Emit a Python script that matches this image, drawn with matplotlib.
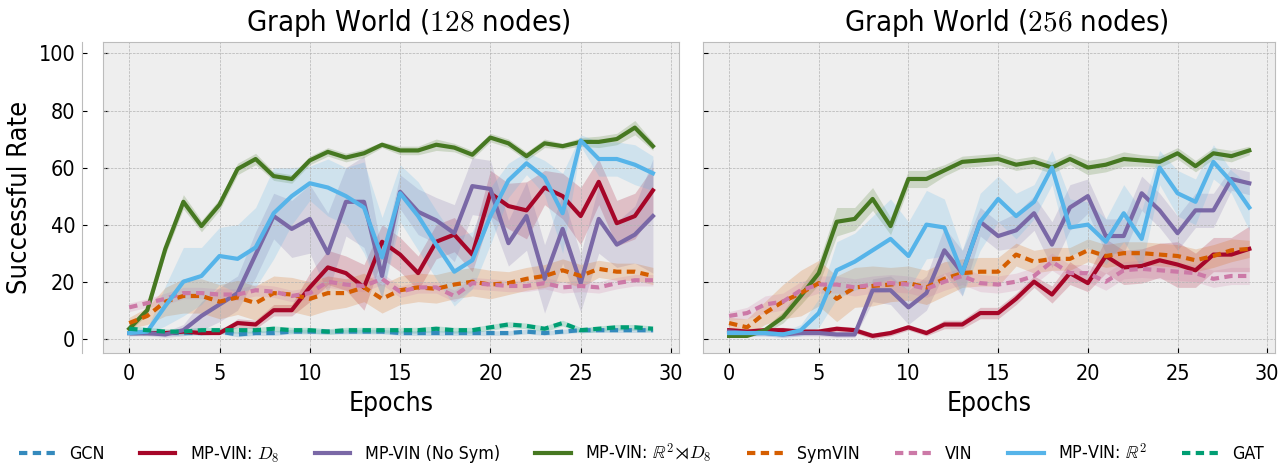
import numpy as np
import matplotlib
matplotlib.use('Agg')
import matplotlib.pyplot as plt

plt.style.use('bmh')
plt.rcParams['font.family'] = ['DejaVu Sans']
plt.rcParams['font.stretch'] = 'condensed'

epochs = np.arange(30)

labels = ['GCN', 'MP-VIN: $D_8$', 'MP-VIN (No Sym)', r'MP-VIN: $\mathbb{R}^2\!\rtimes\! D_8$',
          'SymVIN', 'VIN', r'MP-VIN: $\mathbb{R}^2$', 'GAT']
dashed = [True, False, False, False, True, True, False, True]

# 128 nodes
gcn_128 = [2, 2, 2, 2, 2, 2.5, 1.5, 2, 2, 2.5, 2.5, 2.5, 2.5, 2.5, 2.5, 2, 2, 2, 2, 2, 2, 2, 2.5, 2, 2.5, 3, 3, 3, 3, 3]
d8_128 = [2, 2, 2, 2.5, 2, 2, 5.5, 5, 10, 10, 18, 25, 23, 18, 34, 29.5, 23, 34, 36.5, 29.5, 51, 46.5, 45, 53, 50, 43, 55, 40.5, 43, 52]
nosym_128 = [2, 2, 1.5, 3, 8, 12, 16, 29.5, 43, 38.5, 42, 30, 48, 48, 22, 51.5, 44.5, 41.5, 37, 53.5, 52.5, 33.5, 43, 21, 38.5, 19.5, 42, 33, 36.5, 43]
r2d8_128 = [3.5, 10, 31.5, 48, 39.5, 47, 59.5, 63, 57, 56, 62.5, 65.5, 63.5, 65, 68, 66, 66, 68, 67, 64.5, 70.5, 68.5, 64, 68.5, 67.5, 69, 69, 70, 74, 67.5]
symvin_128 = [5.5, 8, 13, 15, 15, 13, 14.5, 12.5, 16, 15.5, 14, 16, 16, 18, 14, 17, 18, 17.5, 19, 20, 19, 19.5, 21, 22, 24, 22, 24.5, 23.5, 23.5, 22]
vin_128 = [11, 12.5, 14, 16, 16, 15.5, 15.5, 17, 16.5, 15, 16, 20, 19, 18.5, 21, 16.5, 18, 18, 15, 19.5, 19, 18.5, 18.5, 19.5, 18, 18.5, 18, 19.5, 20.5, 20.5]
r2_128 = [2, 2.5, 11.5, 20, 22, 29, 28, 32, 44, 50, 54.5, 53, 50, 46, 28.5, 51, 43, 33, 23.5, 27.5, 43, 55.5, 61.5, 56.5, 44, 69.5, 63, 63, 61, 58]
gat_128 = [3.5, 3, 2.5, 2.5, 3, 3, 3, 3, 3.5, 3, 3, 2.5, 3, 3, 3, 3, 3, 3.5, 3, 3, 4, 5, 4.5, 3.5, 5.5, 3, 3.5, 4, 4, 3.5]

gcn_128_err = [0.8] * 30
d8_128_err = [0.5, 0.5, 0.5, 0.5, 0.5, 0.5, 1.5, 1.5, 2, 2, 5, 6, 6, 8, 6, 6, 6, 6, 6, 6, 8, 8, 10, 6, 8, 10, 8, 8, 8, 8]
nosym_128_err = [1, 1, 1, 2, 5, 6, 6, 8, 8, 10, 12, 14, 12, 16, 8, 6, 8, 8, 10, 10, 10, 8, 12, 12, 12, 10, 12, 8, 10, 20]
r2d8_128_err = [1, 1.5, 2, 2.5, 2, 2, 2, 2, 1.5, 1.5, 1.5, 1.5, 1.5, 1.5, 1, 1.5, 1.5, 2, 1.5, 1.5, 1.5, 1.5, 1.5, 1.5, 1, 1.5, 2, 2, 2.5, 1.5]
symvin_128_err = [2, 3, 5, 6, 6, 6, 6, 6, 6, 6, 6, 6, 5, 5, 5, 5, 5, 5, 5, 5, 5, 4, 4, 4, 4, 4, 3, 3, 3, 3]
vin_128_err = [1.5, 1.5, 2, 2, 2, 2, 2, 2, 2, 2, 2, 2, 2, 2, 2, 2, 2, 2, 2, 2, 2, 2, 2, 2, 2, 2, 2, 2, 2, 2]
r2_128_err = [1, 1, 7, 12, 10, 10, 12, 14, 16, 10, 6, 10, 10, 16, 14, 10, 12, 12, 12, 10, 10, 6, 4, 6, 14, 2, 6, 6, 7, 6]
gat_128_err = [1] * 30

# 256 nodes (no GCN / GAT runs)
d8_256 = [3, 2.5, 3, 3, 2.5, 2.5, 3.5, 3, 1, 2, 4, 2, 5, 5, 9, 9, 14, 20, 15.5, 23, 19.5, 29, 25, 25.5, 27.5, 26, 24, 29.5, 29.5, 31.5]
nosym_256 = [2.5, 2, 2, 1.5, 2, 2, 1.5, 1.5, 17, 17, 11, 16, 31, 23, 41, 36, 38, 44, 33, 46, 50, 36, 36, 51, 45, 37, 45, 45, 56, 54.5]
r2d8_256 = [1, 1, 3, 7.5, 15, 23, 41, 42, 49, 39.5, 56, 56, 59, 62, 62.5, 63, 61, 62, 60, 63, 60, 61, 63, 62.5, 62, 65, 60.5, 65, 64, 66]
symvin_256 = [5.5, 4, 9, 13, 16, 19.5, 14, 18, 18.5, 19, 19.5, 18, 21, 23, 23.5, 23.5, 29.5, 27, 28, 28, 31, 29, 30, 30, 29.5, 29, 27.5, 29, 31, 31.5]
vin_256 = [8, 9, 12, 13, 17, 19, 19, 18, 19, 19.5, 19, 17.5, 20, 22, 19.5, 19, 20, 22, 27, 23, 23, 20, 24, 24.5, 24, 23.5, 23, 21, 22, 22]
r2_256 = [2, 2, 2, 1.5, 3, 9, 24, 27, 31, 35, 29, 40, 39, 23, 41, 49, 43, 48, 60, 39, 40, 34, 44, 35, 60, 51, 48, 62, 55, 46]

d8_256_err = [1, 1, 1, 1, 1, 1, 1, 1, 1, 1, 1, 1, 1.5, 1.5, 2, 2, 2, 2, 3, 4, 3, 6, 6, 6, 6, 8, 6, 6, 6, 8]
nosym_256_err = [1, 1, 1, 1, 1, 1, 1, 1, 4, 5, 6, 6, 8, 8, 5, 5, 6, 6, 8, 8, 6, 6, 6, 6, 6, 6, 6, 6, 4, 4]
r2d8_256_err = [0.5, 0.5, 1, 2, 3, 4, 5, 4, 4, 3, 3, 3, 2, 2, 2, 2, 2, 2, 2, 2, 2.5, 2.5, 2.5, 2, 2, 2, 2, 2, 2, 1.5]
symvin_256_err = [2, 3, 4, 6, 8, 8, 8, 7, 7, 6, 6, 6, 6, 5, 5, 5, 4, 4, 4, 4, 4, 4, 4, 4, 4, 4, 4, 4, 4, 3]
vin_256_err = [1.5, 2, 3, 3, 3, 3, 3, 3, 3, 3, 3, 3, 3, 3, 3, 3, 3, 3, 3, 3, 3, 3, 3, 3, 3, 3, 3, 3, 3, 3]
r2_256_err = [1, 1, 1, 1, 2, 5, 10, 10, 12, 14, 12, 12, 10, 8, 10, 8, 8, 6, 6, 10, 8, 8, 10, 10, 6, 8, 8, 6, 4, 8]

runs_128 = [(gcn_128, gcn_128_err), (d8_128, d8_128_err), (nosym_128, nosym_128_err),
            (r2d8_128, r2d8_128_err), (symvin_128, symvin_128_err), (vin_128, vin_128_err),
            (r2_128, r2_128_err), (gat_128, gat_128_err)]
runs_256 = [None, (d8_256, d8_256_err), (nosym_256, nosym_256_err),
            (r2d8_256, r2d8_256_err), (symvin_256, symvin_256_err), (vin_256, vin_256_err),
            (r2_256, r2_256_err), None]

colors = plt.rcParams['axes.prop_cycle'].by_key()['color']

fig = plt.figure(figsize=(12.83, 4.68), dpi=100)
ax1 = fig.add_axes([0.0803, 0.2457, 0.449, 0.6645])
ax2 = fig.add_axes([0.548, 0.2457, 0.446, 0.6645], sharey=ax1)


def draw(ax, runs, title):
    for i, run in enumerate(runs):
        if run is None:
            continue
        m, e = np.array(run[0]), np.array(run[1])
        ls = (0, (2, 1.3)) if dashed[i] else '-'
        ax.fill_between(epochs, m - e, m + e, color=colors[i], alpha=0.2, lw=0)
        ax.plot(epochs, m, color=colors[i], lw=3, ls=ls, label=labels[i])
    ax.set_title(title, fontsize=21, x=0.53, pad=8)
    ax.set_xlabel('Epochs', fontsize=19, labelpad=5)
    ax.tick_params(labelsize=15.5)
    ax.tick_params(axis='x', pad=8)
    ax.set_xticks([0, 5, 10, 15, 20, 25, 30])


draw(ax1, runs_128, r'Graph World ($128$ nodes)')
draw(ax2, runs_256, r'Graph World ($256$ nodes)')

ax1.set_ylim(-5, 104)
ax1.set_yticks([0, 20, 40, 60, 80, 100])
ax1.set_ylabel('Successful Rate', fontsize=19.5)
ax1.tick_params(axis='y', pad=5)
ax2.tick_params(labelleft=False)

# doubled left axis line seen in the source figure
ax1.spines['left'].set_position(('outward', 15))
sec = ax1.secondary_yaxis(0)
sec.set_yticks([0, 20, 40, 60, 80, 100])
sec.tick_params(labelleft=False)

h, l = ax1.get_legend_handles_labels()
fig.legend(h, l, loc='lower center', bbox_to_anchor=(0.5, -0.028), ncol=8,
           frameon=False, fontsize=12.8, handlelength=2.0, columnspacing=2.0)

fig.savefig('out.png', dpi=100)
